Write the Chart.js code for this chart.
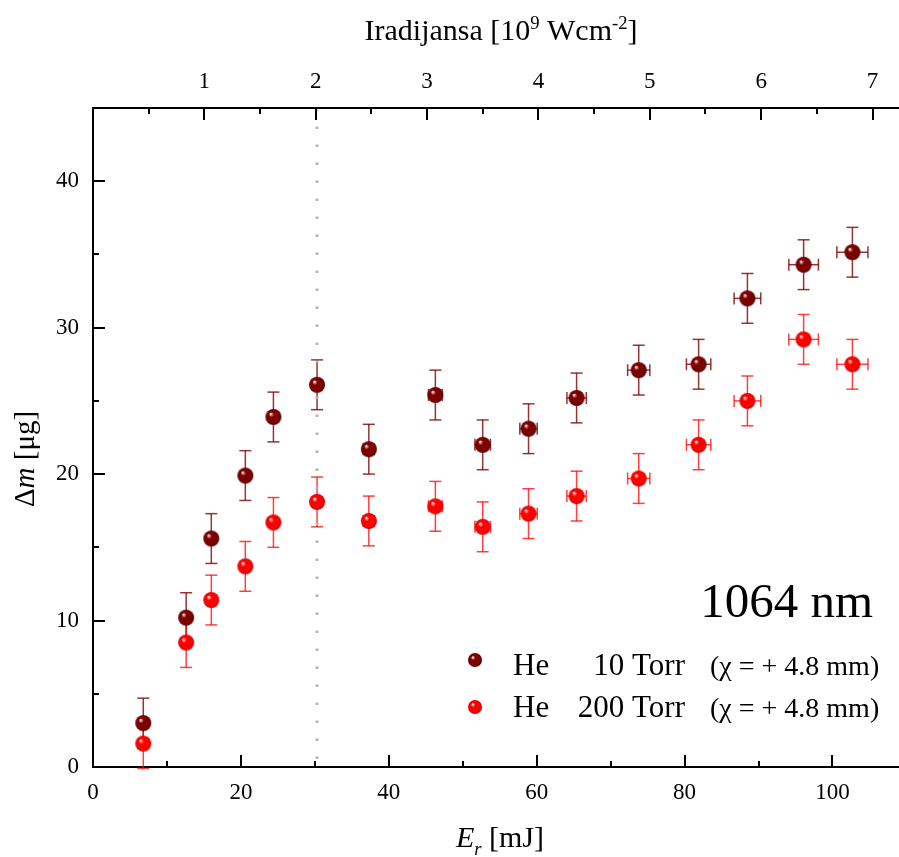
<!DOCTYPE html>
<html>
<head>
<meta charset="utf-8">
<script src="https://cdn.jsdelivr.net/npm/chart.js@4.4.0/dist/chart.umd.min.js"></script>
<style>
  html, body { margin: 0; padding: 0; background: #fff; }
</style>
</head>
<body>
<canvas id="chart" width="899" height="857"></canvas>
<script>
// ------------ DATA ---------------
const energy = [6.8, 12.6, 16.0, 20.6, 24.4, 30.3, 37.3, 46.3, 52.7, 58.9, 65.4, 73.8, 81.9, 88.5, 96.1, 102.7];
const energyErr = [0.14, 0.25, 0.32, 0.41, 0.49, 0.61, 0.75, 0.93, 1.05, 1.18, 1.31, 1.5, 1.65, 1.8, 2.0, 2.1];
const mass10 = [3.0, 10.2, 15.6, 19.9, 23.9, 26.1, 21.7, 25.4, 22.0, 23.1, 25.2, 27.1, 27.5, 32.0, 34.3, 35.15];
const mass10Err = [1.7, 1.7, 1.7, 1.7, 1.7, 1.7, 1.7, 1.7, 1.7, 1.7, 1.7, 1.7, 1.7, 1.7, 1.7, 1.7];
const mass200 = [1.6, 8.5, 11.4, 13.7, 16.7, 18.1, 16.8, 17.8, 16.4, 17.3, 18.5, 19.7, 22.0, 25.0, 29.2, 27.5];
const mass200Err = [1.7, 1.7, 1.7, 1.7, 1.7, 1.7, 1.7, 1.7, 1.7, 1.7, 1.7, 1.7, 1.7, 1.7, 1.7, 1.7];
const seriesGas = ["He", "He"];
const seriesPressure = ["10 Torr", "200 Torr"];
const seriesNote = ["(\u03C7 = + 4.8 mm)", "(\u03C7 = + 4.8 mm)"];
// tick values (labelled ones are the majors)
const energyTicks = [0, 10, 20, 30, 40, 50, 60, 70, 80, 90, 100];
const energyLabels = [0, 20, 40, 60, 80, 100];
const irradianceTicks = [0.5, 1, 1.5, 2, 2.5, 3, 3.5, 4, 4.5, 5, 5.5, 6, 6.5, 7];
const irradianceLabels = [1, 2, 3, 4, 5, 6, 7];
const massTicks = [0, 5, 10, 15, 20, 25, 30, 35, 40];
const massLabels = [0, 10, 20, 30, 40];
const mJPerIrradiance = 15.06;   // 1 x 10^9 W/cm^2 on the top axis
const markedEnergy = 30.3;       // dotted line
const xMax = 109;
const yMax = 45;

const FONT = "'Liberation Serif', 'Times New Roman', serif";

// shaded ball used as point style
function ball(base, dark, r) {
  const c = document.createElement('canvas');
  c.width = c.height = 2 * r + 2;
  const g = c.getContext('2d');
  const cx = r + 1, cy = r + 1;
  const grad = g.createRadialGradient(cx - r * 0.35, cy - r * 0.4, r * 0.05, cx, cy, r);
  grad.addColorStop(0, '#ffe8e8');
  grad.addColorStop(0.28, base);
  grad.addColorStop(0.8, base);
  grad.addColorStop(1, dark);
  g.fillStyle = grad;
  g.beginPath();
  g.arc(cx, cy, r, 0, Math.PI * 2);
  g.fill();
  return c;
}
const ballDark = ball('#7d0000', '#4a0000', 8);
const ballRed = ball('#ff0000', '#c80000', 8);
const legendDark = ball('#7d0000', '#4a0000', 7);
const legendRed = ball('#ff0000', '#c80000', 7);

const toPoints = (ys, eys) => energy.map((x, i) => ({ x: x, y: ys[i], ex: energyErr[i], ey: eys[i] }));
const setTicks = values => s => { s.ticks = values.map(v => ({ value: v })); };
// fixed box size, no extra room kept for edge labels
const fixBox = (w, h) => s => {
  if (w !== null) s.width = w;
  if (h !== null) s.height = h;
  s.paddingLeft = s.paddingRight = s.paddingTop = s.paddingBottom = 0;
};

// ------------ PLUGINS ---------------
const errorBars = {
  id: 'errorBars',
  beforeDatasetsDraw(chart) {
    const ctx = chart.ctx, xs = chart.scales.x, ys = chart.scales.y;
    const seg = (a, b, c, d) => { ctx.beginPath(); ctx.moveTo(a, b); ctx.lineTo(c, d); ctx.stroke(); };
    chart.data.datasets.forEach(ds => {
      ctx.save();
      ctx.strokeStyle = ds.errColor;
      ctx.lineWidth = 1.5;
      ds.data.forEach(p => {
        const px = xs.getPixelForValue(p.x), py = ys.getPixelForValue(p.y);
        const y1 = ys.getPixelForValue(p.y - p.ey), y2 = ys.getPixelForValue(p.y + p.ey);
        const x1 = xs.getPixelForValue(p.x - p.ex), x2 = xs.getPixelForValue(p.x + p.ex);
        seg(px, y1, px, y2);
        seg(px - 6, y1, px + 6, y1);
        seg(px - 6, y2, px + 6, y2);
        seg(x1, py, x2, py);
        seg(x1, py - 6, x1, py + 6);
        seg(x2, py - 6, x2, py + 6);
      });
      ctx.restore();
    });
  }
};

const marker = {
  id: 'marker',
  beforeDatasetsDraw(chart) {
    const ctx = chart.ctx, a = chart.chartArea;
    const px = chart.scales.x.getPixelForValue(markedEnergy);
    ctx.save();
    ctx.strokeStyle = '#b5b5b5';
    ctx.lineWidth = 3;
    ctx.setLineDash([2.5, 15.5]);
    ctx.beginPath();
    ctx.moveTo(px, a.bottom - 8);
    ctx.lineTo(px, a.top + 2);
    ctx.stroke();
    ctx.restore();
  }
};

// inward ticks, major ones have a label
const innerTicks = {
  id: 'innerTicks',
  afterDraw(chart) {
    const ctx = chart.ctx, a = chart.chartArea;
    ctx.save();
    ctx.strokeStyle = '#000';
    ctx.lineWidth = 2;
    ['x', 'x2', 'y'].forEach(id => {
      const s = chart.scales[id];
      s.ticks.forEach(t => {
        const len = t.label !== '' ? 12 : 6;
        const p = Math.round(s.getPixelForValue(t.value));
        ctx.beginPath();
        if (id === 'x') { ctx.moveTo(p, a.bottom); ctx.lineTo(p, a.bottom - len); }
        else if (id === 'x2') { ctx.moveTo(p, a.top); ctx.lineTo(p, a.top + len); }
        else { ctx.moveTo(a.left, p); ctx.lineTo(a.left + len, p); }
        ctx.stroke();
      });
    });
    ctx.restore();
  }
};

// draws runs of [text, style] pieces; style: '', 'i', 'sup', 'isub'
function pieceFont(st, size) {
  const small = st === 'sup' || st === 'isub';
  return (st === 'i' || st === 'isub' ? 'italic ' : '') + (small ? size * 0.62 : size) + 'px ' + FONT;
}
function runWidth(ctx, parts, size) {
  let w = 0;
  parts.forEach(([t, st]) => { ctx.font = pieceFont(st, size); w += ctx.measureText(t).width; });
  return w;
}
function drawRun(ctx, parts, size, x, y) {
  parts.forEach(([t, st]) => {
    ctx.font = pieceFont(st, size);
    let dy = 0;
    if (st === 'sup') dy = -size * 0.38;
    if (st === 'isub') dy = size * 0.25;
    ctx.fillText(t, x, y + dy);
    x += ctx.measureText(t).width;
  });
}

const titles = {
  id: 'titles',
  afterDraw(chart) {
    const ctx = chart.ctx;
    ctx.save();
    ctx.fillStyle = '#000';
    ctx.textBaseline = 'alphabetic';
    ctx.textAlign = 'left';

    const top = [['Iradijansa [10', ''], ['9', 'sup'], [' Wcm', ''], ['-2', 'sup'], [']', '']];
    let w = runWidth(ctx, top, 30);
    drawRun(ctx, top, 30, 501 - w / 2, 40);

    const bottom = [['E', 'i'], ['r', 'isub'], [' [mJ]', '']];
    w = runWidth(ctx, bottom, 30);
    drawRun(ctx, bottom, 30, 500 - w / 2, 847);

    const left = [['\u0394', ''], ['m', 'i'], [' [\u03BCg]', '']];
    w = runWidth(ctx, left, 29);
    ctx.save();
    ctx.translate(34, 459);
    ctx.rotate(-Math.PI / 2);
    drawRun(ctx, left, 29, -w / 2, 0);
    ctx.restore();

    // wavelength tag
    ctx.font = '49px ' + FONT;
    ctx.textAlign = 'right';
    ctx.fillText('1064 nm', 873, 617);

    // legend
    const balls = [legendDark, legendRed];
    const ballY = [660, 707];
    const rows = [675, 717];
    rows.forEach((by, i) => {
      ctx.drawImage(balls[i], 475 - balls[i].width / 2, ballY[i] - balls[i].height / 2);
      ctx.font = '31px ' + FONT;
      ctx.textAlign = 'left';
      ctx.fillText(seriesGas[i], 513, by);
      ctx.textAlign = 'right';
      ctx.fillText(seriesPressure[i], 685, by);
      ctx.font = '28px ' + FONT;
      ctx.textAlign = 'left';
      ctx.fillText(seriesNote[i], 710, by);
    });
    ctx.restore();
  }
};

// ------------ CHART ---------------
const tickFont = { family: FONT, size: 23 };

new Chart(document.getElementById('chart'), {
  type: 'scatter',
  data: {
    datasets: [
      {
        label: seriesGas[0] + ' ' + seriesPressure[0],
        data: toPoints(mass10, mass10Err),
        pointStyle: ballDark,
        pointRadius: 8,
        errColor: 'rgba(125,0,0,0.8)'
      },
      {
        label: seriesGas[1] + ' ' + seriesPressure[1],
        data: toPoints(mass200, mass200Err),
        pointStyle: ballRed,
        pointRadius: 8,
        errColor: 'rgba(255,0,0,0.75)'
      }
    ]
  },
  options: {
    responsive: false,
    animation: false,
    layout: { padding: 0, autoPadding: false },
    plugins: {
      legend: { display: false },
      tooltip: { enabled: false }
    },
    scales: {
      x: {
        type: 'linear',
        position: 'bottom',
        min: 0,
        max: xMax,
        afterBuildTicks: setTicks(energyTicks),
        afterFit: fixBox(null, 90),
        border: { display: true, color: '#000', width: 2 },
        grid: { display: false, drawTicks: false },
        ticks: {
          autoSkip: false,
          maxRotation: 0,
          padding: 12,
          color: '#000',
          font: tickFont,
          callback: v => (energyLabels.includes(v) ? String(v) : '')
        }
      },
      x2: {
        type: 'linear',
        position: 'top',
        min: 0,
        max: xMax / mJPerIrradiance,
        afterBuildTicks: setTicks(irradianceTicks),
        afterFit: fixBox(null, 108),
        border: { display: true, color: '#000', width: 2 },
        grid: { display: false, drawTicks: false },
        ticks: {
          autoSkip: false,
          maxRotation: 0,
          padding: 12,
          color: '#000',
          font: tickFont,
          callback: v => (irradianceLabels.includes(v) ? String(v) : '')
        }
      },
      y: {
        type: 'linear',
        min: 0,
        max: yMax,
        afterBuildTicks: setTicks(massTicks),
        afterFit: fixBox(93, null),
        border: { display: true, color: '#000', width: 2 },
        grid: { display: false, drawTicks: false },
        ticks: {
          autoSkip: false,
          padding: 14,
          color: '#000',
          font: tickFont,
          callback: v => (massLabels.includes(v) ? String(v) : '')
        }
      }
    }
  },
  plugins: [errorBars, marker, innerTicks, titles]
});
</script>
</body>
</html>
